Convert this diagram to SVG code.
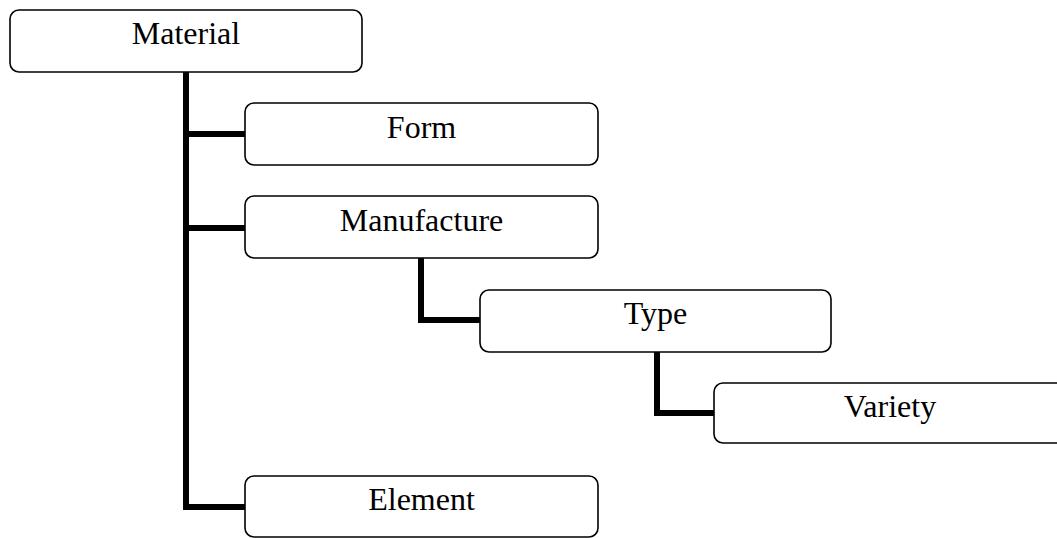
<svg xmlns="http://www.w3.org/2000/svg" width="1057" height="538" viewBox="0 0 1057 538">
  <style>
    .box { fill: #ffffff; stroke: #000000; stroke-width: 1.6; }
    .label { font-family: "Liberation Serif", "Times New Roman", serif; font-size: 32px; fill: #000000; text-anchor: middle; }
    .link { fill: none; stroke: #000000; stroke-width: 6; stroke-linejoin: miter; stroke-linecap: butt; }
  </style>
  <rect width="1057" height="538" fill="#ffffff"/>

  <!-- connectors: a single trunk from Material, elbows for the nested levels -->
  <g id="connectors">
    <path class="link" d="M186,72 V507 H245"/>
    <path class="link" d="M186,134 H245"/>
    <path class="link" d="M186,228 H245"/>
    <path class="link" d="M421,258 V320 H480"/>
    <path class="link" d="M657,352 V413 H714"/>
  </g>

  <!-- nodes -->
  <g id="material">
    <rect class="box" x="10" y="10" width="352" height="62" rx="9"/>
    <text class="label" x="186" y="44">Material</text>
  </g>
  <g id="form">
    <rect class="box" x="245" y="103" width="353" height="62" rx="9"/>
    <text class="label" x="421.5" y="138">Form</text>
  </g>
  <g id="manufacture">
    <rect class="box" x="245" y="196" width="353" height="62" rx="9"/>
    <text class="label" x="421.5" y="231">Manufacture</text>
  </g>
  <g id="type">
    <rect class="box" x="480" y="290" width="351" height="62" rx="9"/>
    <text class="label" x="655.5" y="324">Type</text>
  </g>
  <g id="variety">
    <rect class="box" x="714" y="383" width="352" height="60" rx="9"/>
    <text class="label" x="890" y="417">Variety</text>
  </g>
  <g id="element">
    <rect class="box" x="245" y="476" width="353" height="61" rx="9"/>
    <text class="label" x="421.5" y="510">Element</text>
  </g>
</svg>
